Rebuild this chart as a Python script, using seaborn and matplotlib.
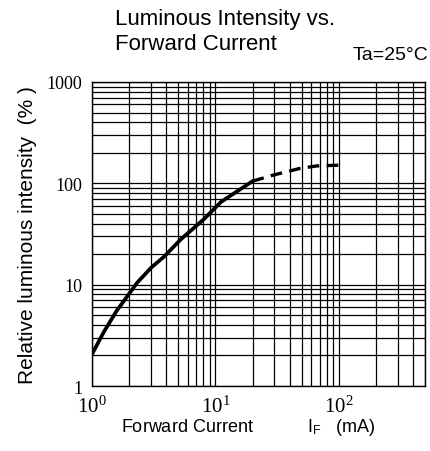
import matplotlib
matplotlib.use("Agg")
import matplotlib.pyplot as plt
import seaborn as sns
import pandas as pd
from matplotlib.ticker import LogLocator, NullFormatter, FixedLocator, FixedFormatter

# ---- data ----
current_solid = [1, 1.24, 1.58, 2.33, 3.03, 3.84, 5.26, 8.06, 11.1, 20]
intensity_solid = [2.06, 3.37, 5.5, 10.5, 14.8, 18.9, 28.1, 44.2, 65.5, 105]
current_dash = [20, 29, 48, 66, 100]
intensity_dash = [105, 120, 140, 148.5, 151]

x_ticks = [1, 10, 100]
x_ticklabels = [r"$10^0$", r"$10^1$", r"$10^2$"]
y_ticks = [1, 10, 100, 1000]
y_ticklabels = ["1", "10", "100", "1000"]

sns.set_style("white")
plt.rcParams['font.family'] = ['Liberation Sans', 'DejaVu Sans']
plt.rcParams['mathtext.fontset'] = 'custom'
plt.rcParams['mathtext.rm'] = 'Liberation Serif'
plt.rcParams['mathtext.it'] = 'Liberation Serif'
plt.rcParams['mathtext.sf'] = 'Liberation Sans'
for k in ['text.color', 'axes.labelcolor', 'xtick.color', 'ytick.color']:
    plt.rcParams[k] = 'black'

fig = plt.figure(figsize=(4.31, 4.52), dpi=100)
ax = fig.add_axes([92/431, 1 - 387/452, (425 - 92)/431, (387 - 83)/452])

df_s = pd.DataFrame({"x": current_solid, "y": intensity_solid})
df_d = pd.DataFrame({"x": current_dash, "y": intensity_dash})

ax.set_xscale("log")
ax.set_yscale("log")
sns.lineplot(data=df_s, x="x", y="y", ax=ax, color="black", lw=2.7, zorder=5)
sns.lineplot(data=df_d, x="x", y="y", ax=ax, color="black", lw=2.4, zorder=5)
ax.lines[-1].set_dashes([3.5, 2.2])

ax.set_xlim(1, 500)
ax.set_ylim(1, 1000)

ax.xaxis.set_major_locator(FixedLocator(x_ticks))
ax.xaxis.set_major_formatter(FixedFormatter(x_ticklabels))
ax.yaxis.set_major_locator(FixedLocator(y_ticks))
ax.yaxis.set_major_formatter(FixedFormatter(y_ticklabels))
ax.xaxis.set_minor_locator(LogLocator(base=10, subs=range(2, 10), numticks=20))
ax.yaxis.set_minor_locator(LogLocator(base=10, subs=range(2, 10), numticks=20))
ax.xaxis.set_minor_formatter(NullFormatter())
ax.yaxis.set_minor_formatter(NullFormatter())

ax.grid(which="both", color="black", lw=0.9)
ax.set_axisbelow(True)
for s in ax.spines.values():
    s.set_color("black")
    s.set_linewidth(1.0)

ax.tick_params(which="both", length=0)
ax.tick_params(axis="x", pad=6, labelsize=15)
ax.tick_params(axis="y", pad=7, labelsize=13)
for lab in ax.get_yticklabels():
    lab.set_family("Liberation Serif")

ax.set_xlabel("")
ax.set_ylabel("Relative luminous intensity  (% )", fontsize=15)
ax.yaxis.set_label_coords((37 - 92) / 333, 0.5)

fig.text(248/431, 1 - 428/452,
         "Forward Current" + " " * 11 + r"I$_\mathsf{F}$" + "   (mA)",
         fontsize=13, ha="center", va="center")

fig.text(115/431, 1 - 20/452, "Luminous Intensity vs.", fontsize=16, ha="left", va="center")
fig.text(115/431, 1 - 44/452, "Forward Current", fontsize=16, ha="left", va="center")
fig.text(428/431, 1 - 56/452, "Ta=25°C", fontsize=14, ha="right", va="center")

fig.savefig("out.png", dpi=100)
